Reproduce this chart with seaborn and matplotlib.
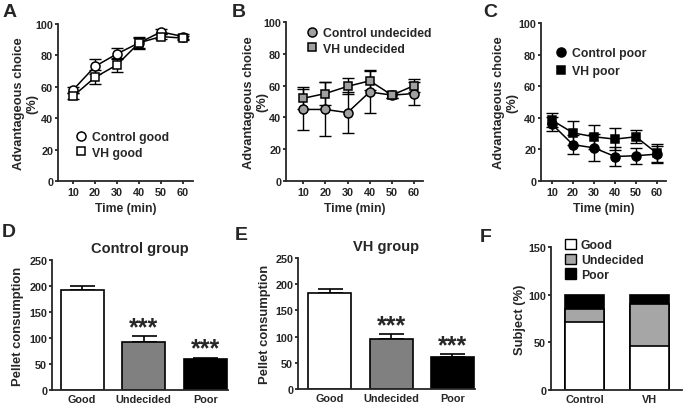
import numpy as np
import pandas as pd
import seaborn as sns
import matplotlib.pyplot as plt
from matplotlib.lines import Line2D
from matplotlib.patches import Patch

# time course data (advantageous choice, %)
time_min = [10, 20, 30, 40, 50, 60]
ctrl_good = [58, 73, 81, 88, 95, 92]
ctrl_good_err = [2, 5, 3.5, 3, 1.5, 1.5]
vh_good = [54, 66, 74, 88, 92, 91]
vh_good_err = [2, 4.5, 4.5, 4, 1.5, 1.5]
ctrl_und = [45, 45, 43, 56, 54, 55]
ctrl_und_err = [13, 17, 13, 13.5, 2, 7.5]
vh_und = [52, 55, 59.5, 63, 54, 60]
vh_und_err = [7, 7.5, 5, 6, 2, 4]
ctrl_poor = [36, 23, 21, 15.5, 16, 17]
ctrl_poor_err = [4.5, 6, 8.5, 6, 5, 5]
vh_poor = [38.5, 30.5, 28, 26.5, 28, 17.5]
vh_poor_err = [4.5, 7.5, 7.5, 7, 4, 6]

# pellet consumption
groups = ['Good', 'Undecided', 'Poor']
ctrl_pellet = [192, 93, 60]
ctrl_pellet_err = [8, 11, 2]
vh_pellet = [184, 96, 62]
vh_pellet_err = [7, 9, 4]

# subject distribution (%)
subj_groups = ['Control', 'VH']
subj_good = [71, 46]
subj_und = [14, 44]
subj_poor = [15, 10]

sns.set_style('ticks')
plt.rcParams['font.family'] = ['Liberation Sans', 'DejaVu Sans']
plt.rcParams['font.weight'] = 'bold'
plt.rcParams['axes.labelweight'] = 'bold'
plt.rcParams['axes.linewidth'] = 1.3
plt.rcParams['xtick.major.width'] = 1.3
plt.rcParams['ytick.major.width'] = 1.3
plt.rcParams['xtick.major.size'] = 2.5
plt.rcParams['ytick.major.size'] = 2.5
plt.rcParams['xtick.labelsize'] = 7.8
plt.rcParams['ytick.labelsize'] = 7.8
plt.rcParams['xtick.major.pad'] = 1.5
plt.rcParams['ytick.major.pad'] = 1

W, H = 685, 406
fig = plt.figure(figsize=(W / 100, H / 100), dpi=100)


def px_axes(left, right, top, bottom):
    ax = fig.add_axes([left / W, (H - bottom) / H, (right - left) / W, (bottom - top) / H])
    ax.width_px = right - left
    return ax


def ylabel_at(ax, text, size, offset_px, **kw):
    ax.set_ylabel(text, fontsize=size, **kw)
    ax.yaxis.set_label_coords(offset_px / ax.width_px, 0.5)


def time_panel(ax, s1, e1, s2, e2, lab1, lab2, face, xlim, leg_anchor, spacing, lab_off):
    ax.errorbar(time_min, s1, yerr=e1, fmt='none', ecolor='black', elinewidth=1, capsize=4, capthick=1, zorder=2)
    ax.errorbar(time_min, s2, yerr=e2, fmt='none', ecolor='black', elinewidth=1, capsize=4, capthick=1, zorder=2)
    sns.lineplot(x=time_min, y=s1, ax=ax, color='black', linewidth=1.1, marker='o', markersize=6.5,
                 markerfacecolor=face, markeredgecolor='black', markeredgewidth=1.1, zorder=3)
    sns.lineplot(x=time_min, y=s2, ax=ax, color='black', linewidth=1.1, marker='s', markersize=6,
                 markerfacecolor=face, markeredgecolor='black', markeredgewidth=1.1, zorder=3)
    ax.set_xlim(*xlim)
    ax.set_ylim(0, 100)
    ax.set_xticks(time_min)
    ax.set_yticks([0, 20, 40, 60, 80, 100])
    ax.set_xlabel('Time (min)', fontsize=8.7, labelpad=4)
    ylabel_at(ax, 'Advantageous choice\n(%)', 9.3, lab_off, linespacing=1.1)
    handles = [Line2D([], [], linestyle='none', marker='o', markersize=6.5, markerfacecolor=face,
                      markeredgecolor='black', markeredgewidth=1.1),
               Line2D([], [], linestyle='none', marker='s', markersize=6, markerfacecolor=face,
                      markeredgecolor='black', markeredgewidth=1.1)]
    ax.legend(handles, [lab1, lab2], loc='upper left', bbox_to_anchor=leg_anchor, frameon=False,
              fontsize=8.8, handlelength=0.8, handletextpad=0.5, labelspacing=spacing, borderaxespad=0)
    sns.despine(ax=ax)


axA = px_axes(58, 193, 25, 182)
time_panel(axA, ctrl_good, ctrl_good_err, vh_good, vh_good_err, 'Control good', 'VH good', 'white',
           (3.2, 64.5), (0.1, 0.35), 0.3, -20)
axB = px_axes(286, 423, 23, 182)
time_panel(axB, ctrl_und, ctrl_und_err, vh_und, vh_und_err, 'Control undecided', 'VH undecided', '#a0a0a0',
           (2.3, 64), (0.12, 1.0), 0.3, -18)
axC = px_axes(541, 666, 24, 182)
time_panel(axC, ctrl_poor, ctrl_poor_err, vh_poor, vh_poor_err, 'Control poor', 'VH poor', 'black',
           (4.8, 64.3), (0.08, 0.88), 0.5, -23)


def pellet_panel(ax, vals, errs, title, xlim, lab_off):
    sns.barplot(x=groups, y=vals, hue=groups, palette=['white', '#808080', 'black'], legend=False,
                edgecolor='black', linewidth=1.2, width=0.7, ax=ax, zorder=2)
    ax.errorbar(range(3), vals, yerr=[[0, 0, 0], errs], fmt='none', ecolor='black', elinewidth=1.2,
                capsize=9, capthick=1.2, zorder=1)
    for i in [1, 2]:
        ax.annotate('***', (i, vals[i] + errs[i]), xytext=(0, 1.5), textcoords='offset points',
                    ha='center', va='baseline', fontsize=18, fontweight='bold')
    ax.set_xlim(*xlim)
    ax.set_ylim(0, 250)
    ax.set_yticks([0, 50, 100, 150, 200, 250])
    ax.tick_params(axis='x', length=0, pad=3)
    ax.set_xlabel('')
    ylabel_at(ax, 'Pellet consumption', 9.4, lab_off)
    ax.set_title(title, fontsize=10.5, fontweight='bold', pad=6)
    sns.despine(ax=ax)


axD = px_axes(52, 228, 261, 391)
pellet_panel(axD, ctrl_pellet, ctrl_pellet_err, 'Control group', (-0.49, 2.37), -28)
axE = px_axes(298, 475, 259, 390)
pellet_panel(axE, vh_pellet, vh_pellet_err, 'VH group', (-0.52, 2.37), -27)

# stacked bars: draw cumulative totals then overlay
axF = px_axes(551, 682, 248, 391)
tot_all = [g + u + p for g, u, p in zip(subj_good, subj_und, subj_poor)]
tot_gu = [g + u for g, u in zip(subj_good, subj_und)]
sns.barplot(x=subj_groups, y=tot_all, color='black', edgecolor='black', linewidth=1.2, width=0.6, ax=axF)
sns.barplot(x=subj_groups, y=tot_gu, color='#a6a6a6', edgecolor='black', linewidth=1.2, width=0.6, ax=axF)
sns.barplot(x=subj_groups, y=subj_good, color='white', edgecolor='black', linewidth=1.2, width=0.6, ax=axF)
axF.set_xlim(-0.52, 1.5)
axF.set_ylim(0, 150)
axF.set_yticks([0, 50, 100, 150])
axF.tick_params(axis='x', length=0, pad=3)
axF.set_xlabel('')
ylabel_at(axF, 'Subject (%)', 9.4, -25)
f_handles = [Patch(facecolor=c, edgecolor='black', linewidth=1) for c in ['white', '#a6a6a6', 'black']]
axF.legend(f_handles, groups, loc='upper left', bbox_to_anchor=(0.07, 1.09), frameon=False, fontsize=8.8,
           handlelength=0.9, handleheight=0.9, handletextpad=0.4, labelspacing=0.2, borderaxespad=0)
sns.despine(ax=axF)

for ax in [axA, axB, axC, axD, axE, axF]:
    for lab in ax.get_xticklabels() + ax.get_yticklabels():
        lab.set_fontweight('bold')

for letter, x, y in [('A', 3, 17), ('B', 232, 17), ('C', 483, 17), ('D', 2, 237), ('E', 235, 240), ('F', 480, 242)]:
    fig.text(x / W, 1 - y / H, letter, fontsize=14, fontweight='bold', ha='left', va='baseline')

fig.savefig('out.png', dpi=100)
